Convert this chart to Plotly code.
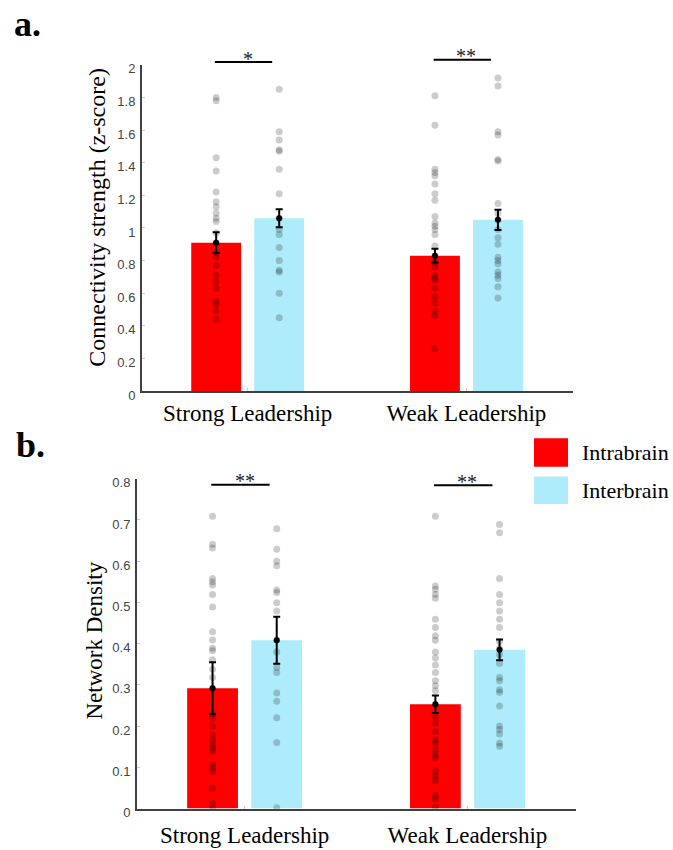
import plotly.graph_objects as go

# ---------------- data ----------------
categories = ["Strong Leadership", "Weak Leadership"]
groups = ["Intrabrain", "Interbrain"]

# panel a: connectivity strength (z-score)
conn_intra_mean = [0.91, 0.83]
conn_intra_sem = [0.063, 0.042]
conn_inter_mean = [1.06, 1.05]
conn_inter_sem = [0.055, 0.062]

conn_intra_strong = [1.80, 1.78, 1.43, 1.35, 1.22, 1.16, 1.13, 1.09, 1.06, 1.04, 0.97,
                     0.91, 0.85, 0.82, 0.77, 0.71, 0.67, 0.63, 0.55, 0.53, 0.49, 0.44]
conn_inter_strong = [1.85, 1.59, 1.54, 1.48, 1.47, 1.36, 1.21, 1.06, 0.99, 0.96, 0.88,
                     0.80, 0.74, 0.73, 0.60, 0.45]
conn_intra_weak = [1.81, 1.63, 1.36, 1.34, 1.32, 1.27, 1.21, 1.17, 1.07, 1.03, 1.01, 0.99,
                   0.96, 0.89, 0.83, 0.79, 0.76, 0.71, 0.69, 0.68, 0.63, 0.58, 0.54, 0.49,
                   0.46, 0.26]
conn_inter_weak = [1.92, 1.87, 1.59, 1.57, 1.42, 1.41, 1.15, 1.09, 1.05, 0.99, 0.94, 0.90,
                   0.82, 0.80, 0.78, 0.73, 0.71, 0.69, 0.64, 0.57]

# panel b: network density
dens_intra_mean = [0.292, 0.253]
dens_intra_sem = [0.063, 0.021]
dens_inter_mean = [0.408, 0.385]
dens_inter_sem = [0.057, 0.025]

dens_intra_strong = [0.709, 0.641, 0.632, 0.558, 0.550, 0.542, 0.519, 0.489, 0.429, 0.409,
                     0.389, 0.383, 0.361, 0.338, 0.318, 0.292, 0.230, 0.218, 0.199, 0.179,
                     0.167, 0.155, 0.147, 0.139, 0.107, 0.099, 0.090, 0.049, 0.012, 0.002]
dens_inter_strong = [0.679, 0.629, 0.600, 0.589, 0.530, 0.524, 0.499, 0.479, 0.409, 0.380,
                     0.342, 0.330, 0.280, 0.260, 0.220, 0.160, 0.002]
dens_intra_weak = [0.709, 0.540, 0.532, 0.520, 0.510, 0.459, 0.439, 0.419, 0.408, 0.380,
                   0.365, 0.348, 0.330, 0.310, 0.298, 0.286, 0.253, 0.222, 0.207, 0.187,
                   0.167, 0.159, 0.143, 0.131, 0.123, 0.091, 0.079, 0.068, 0.032, 0.024, 0.004]
dens_inter_weak = [0.689, 0.669, 0.558, 0.519, 0.499, 0.479, 0.459, 0.439, 0.405, 0.388,
                   0.373, 0.352, 0.318, 0.310, 0.288, 0.282, 0.249, 0.200, 0.192, 0.181,
                   0.159, 0.151]

sig_a = ["*", "**"]
sig_b = ["**", "**"]

# ---------------- style ----------------
W, H = 673, 850
RED = "#FF0000"
BLUE = "#AEEBFB"
SERIF = "Liberation Serif, Times New Roman, serif"
SANS = "Liberation Sans, Arial, sans-serif"
PT_COLOR = "rgba(0,0,0,0.2)"
cat_pos = [0, 1]
OFF = 0.144
BW = 0.228
XR = [-0.483, 1.487]

def px_x(p):
    return p / W

def px_y(p):
    return 1 - p / H

fig = go.Figure()

def add_panel(xa, ya, intra_mean, intra_sem, inter_mean, inter_sem, pts):
    for name, color, means, off in [("Intrabrain", RED, intra_mean, -OFF),
                                    ("Interbrain", BLUE, inter_mean, OFF)]:
        xs = [c + off for c in cat_pos]
        fig.add_trace(go.Bar(x=xs, y=means, width=BW, marker=dict(color=color, line=dict(width=0)),
                             name=name, showlegend=False, xaxis=xa, yaxis=ya))
    for gi, off in enumerate([-OFF, OFF]):
        for ci, c in enumerate(cat_pos):
            vals = pts[gi][ci]
            fig.add_trace(go.Scatter(x=[c + off] * len(vals), y=vals, mode="markers",
                                     marker=dict(size=7, color=PT_COLOR, line=dict(width=0)),
                                     showlegend=False, xaxis=xa, yaxis=ya, cliponaxis=False))
    for means, sems, off in [(intra_mean, intra_sem, -OFF), (inter_mean, inter_sem, OFF)]:
        xs = [c + off for c in cat_pos]
        fig.add_trace(go.Scatter(x=xs, y=means, mode="markers",
                                 marker=dict(size=6, color="black"),
                                 error_y=dict(type="data", array=sems, color="black",
                                              thickness=2, width=3.5),
                                 showlegend=False, xaxis=xa, yaxis=ya))

add_panel("x", "y", conn_intra_mean, conn_intra_sem, conn_inter_mean, conn_inter_sem,
          [[conn_intra_strong, conn_intra_weak], [conn_inter_strong, conn_inter_weak]])
add_panel("x2", "y2", dens_intra_mean, dens_intra_sem, dens_inter_mean, dens_inter_sem,
          [[dens_intra_strong, dens_intra_weak], [dens_inter_strong, dens_inter_weak]])

axis_common = dict(showgrid=False, zeroline=False, showline=True, linecolor="#404040",
                   linewidth=2, ticks="inside", tickcolor="#cccccc", ticklen=3, tickwidth=1)

xaxis_common = dict(axis_common, range=XR, tickvals=cat_pos, ticktext=categories,
                    tickfont=dict(family=SERIF, size=23, color="black"))

yaxis_common = dict(axis_common, tickfont=dict(family=SANS, size=13, color="#444444"),
                    ticklabelshift=4, ticklabelstandoff=2)

fig.update_layout(
    width=W, height=H,
    margin=dict(l=0, r=0, t=0, b=0),
    paper_bgcolor="white", plot_bgcolor="white",
    barmode="overlay",
    xaxis=dict(xaxis_common, domain=[px_x(142), px_x(573)], anchor="y"),
    yaxis=dict(yaxis_common, domain=[px_y(395), px_y(63)], range=[0, 2],
               tickvals=[0, 0.2, 0.4, 0.6, 0.8, 1, 1.2, 1.4, 1.6, 1.8, 2],
               ticktext=["0", "0.2", "0.4", "0.6", "0.8", "1", "1.2", "1.4", "1.6", "1.8", "2"],
               anchor="x"),
    xaxis2=dict(xaxis_common, domain=[px_x(137), px_x(576)], anchor="y2",
                ticklabelstandoff=5),
    yaxis2=dict(yaxis_common, domain=[px_y(820), px_y(484.3)], range=[0, 0.8],
                tickvals=[0, 0.1, 0.2, 0.3, 0.4, 0.5, 0.6, 0.7, 0.8],
                ticktext=["0", "0.1", "0.2", "0.3", "0.4", "0.5", "0.6", "0.7", "0.8"],
                anchor="x2"),
    showlegend=False,
)

annotations = []
shapes = []

# panel letters
annotations.append(dict(text="<b>a.</b>", x=px_x(12), y=px_y(21), xref="paper", yref="paper",
                        xanchor="left", yanchor="middle", showarrow=False,
                        font=dict(family=SERIF, size=36, color="black")))
annotations.append(dict(text="<b>b.</b>", x=px_x(14), y=px_y(450), xref="paper", yref="paper",
                        xanchor="left", yanchor="middle", showarrow=False,
                        font=dict(family=SERIF, size=36, color="black")))

# y-axis titles
annotations.append(dict(text="Connectivity strength (z-score)", x=px_x(97), y=px_y(217.5),
                        xref="paper", yref="paper", textangle=-90, showarrow=False,
                        xanchor="center", yanchor="middle",
                        font=dict(family=SERIF, size=24, color="black")))
annotations.append(dict(text="Network Density", x=px_x(95), y=px_y(649),
                        xref="paper", yref="paper", textangle=-90, showarrow=False,
                        xanchor="center", yanchor="middle",
                        font=dict(family=SERIF, size=23, color="black")))

# significance brackets
brackets = [("x", sig_a, [px_y(60), px_y(57.7)], [px_y(57), px_y(54)]),
            ("x2", sig_b, [px_y(490.3), px_y(491)], [px_y(486.5), px_y(487.5)])]
for xref, sigs, ly, ty in brackets:
    for ci, c in enumerate(cat_pos):
        shapes.append(dict(type="line", xref=xref, yref="paper", x0=c - 0.15, x1=c + 0.112,
                           y0=ly[ci], y1=ly[ci], line=dict(color="black", width=2)))
        annotations.append(dict(text=sigs[ci], x=c, y=ty[ci], xref=xref, yref="paper",
                                showarrow=False, yanchor="middle",
                                font=dict(family=SERIF, size=20, color="#222222")))

# legend
for name, color, y0, y1 in [("Intrabrain", RED, 443, 472), ("Interbrain", BLUE, 482, 510)]:
    shapes.append(dict(type="rect", xref="paper", yref="paper", x0=px_x(534), x1=px_x(568),
                       y0=px_y(y1), y1=px_y(y0), fillcolor=color, line=dict(width=0)))
    annotations.append(dict(text=name, x=px_x(580), y=px_y((y0 + y1) / 2), xref="paper",
                            yref="paper", xanchor="left", yanchor="middle", showarrow=False,
                            font=dict(family=SERIF, size=22, color="black")))

fig.update_layout(annotations=annotations, shapes=shapes)

fig.write_html("out.html")
